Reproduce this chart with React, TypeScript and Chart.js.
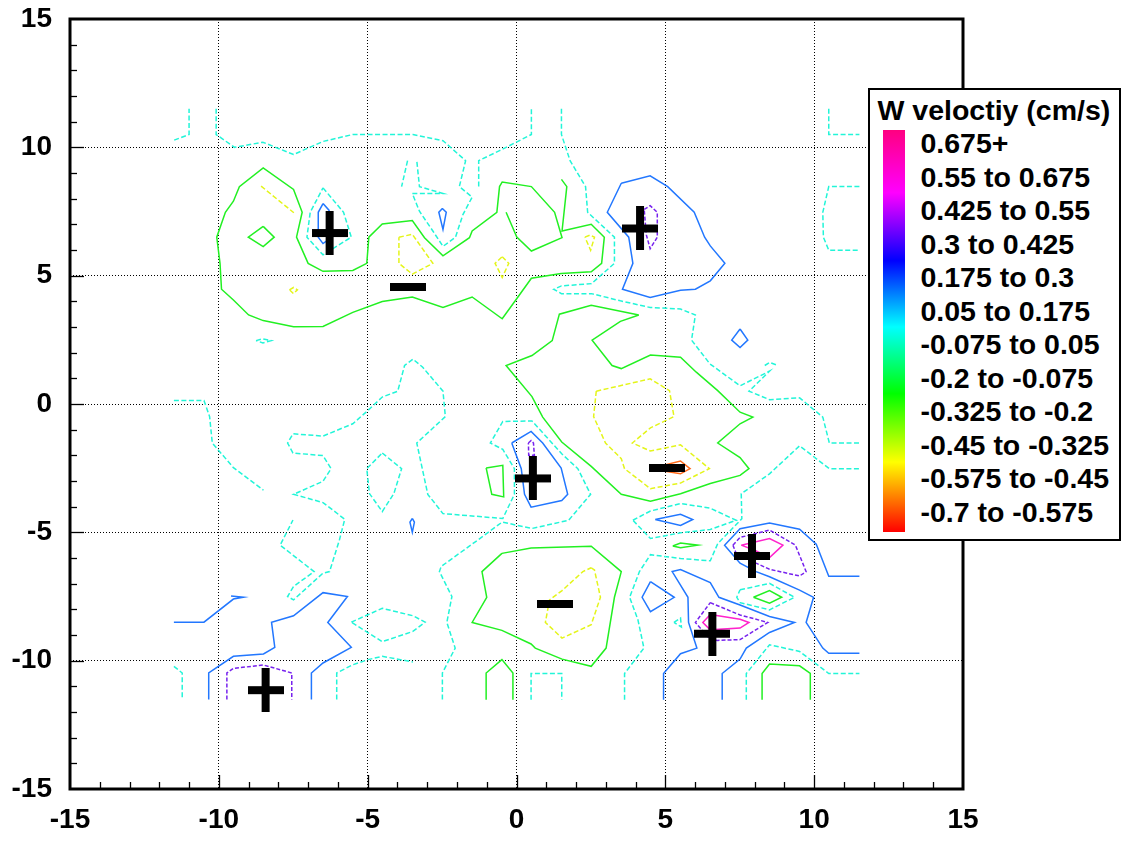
import React, { useEffect, useRef } from "react";
import { Chart, registerables } from "chart.js";

Chart.register(...registerables);

type Pt = [number, number];

const loop = (pts: Pt[]): Pt[] => [...pts, pts[0]];

const cyanContours: Pt[][] = [
  [[-11.5, 10.28], [-11, 10.5], [-11, 11.5]],
  [[-3.66, 9.48], [-3.86, 8.47]],
  [[-10.09, 11.5], [-10.09, 10.5], [-9.47, 10], [-8.52, 10.2], [-7.49, 9.72], [-6.5, 10.23], [-5.5, 10.5], [-3.48, 10.5], [-2.47, 10.26], [-1.71, 9.48], [-1.92, 8.47], [-1.49, 8.06], [-1.8, 7.38], [-2.05, 6.5], [-2.47, 6.14], [-2.81, 6.74], [-3.26, 7.51], [-3.5, 8.2], [-2.47, 8.2], [-3.26, 8.47], [-3.35, 9.48]],
  [[-1.27, 8.47], [-1.27, 9.48], [-0.57, 9.87], [0.5, 10.5], [0.5, 11.5]],
  [[1.51, 11.5], [1.51, 10.5], [1.8, 9.48], [2.32, 8.47], [2.39, 7.47], [3.29, 6.5], [3.29, 5.48], [2.52, 4.69], [1.51, 4.6], [1.25, 4.47], [1.51, 4.3], [2.52, 4.3], [3.49, 4.02], [4.49, 3.76], [5.51, 3.7], [6.01, 3.47], [5.88, 2.49], [6.5, 1.56], [7.51, 0.71], [8.5, 1.28], [7.81, 0.5], [8.5, 0.17], [9.51, 0.24], [10.29, -0.51], [10.51, -1.52], [11.52, -1.52]],
  [[8.34, 1.5], [8.5, 1.62], [8.78, 1.5]],
  [[10.49, 11.5], [10.49, 10.5], [11.52, 10.5]],
  [[11.52, 8.47], [10.49, 8.47], [10.29, 7.47], [10.31, 6.5], [10.49, 5.99], [11.52, 5.99]],
  loop([[-6.5, 8.42], [-5.81, 7.47], [-5.55, 6.5], [-6.5, 5.81], [-7.04, 6.5], [-6.93, 7.47]]),
  loop([[-8.75, 2.47], [-8.52, 2.54], [-8.24, 2.47], [-8.52, 2.38]]),
  [[-2.49, -11.51], [-2.49, -10.48], [-2.06, -9.51], [-2.34, -8.51], [-2.17, -7.5], [-2.59, -6.53], [-2.53, -6.33], [-1.3, -5.3], [-0.48, -4.6], [0.52, -4.85], [1.75, -4.53], [2.49, -3.52], [2.06, -2.52], [1.52, -1.94], [0.52, -0.66], [-0.46, -0.68], [-0.88, -1.52], [-0.46, -1.77], [-0.07, -2.52], [-0.07, -3.52], [-0.46, -4.46], [-2.47, -4.27], [-2.98, -3.52], [-3.35, -1.52], [-2.39, -0.49], [-2.47, 0.5], [-3.15, 1.43], [-3.48, 1.75], [-3.76, 1.5], [-3.99, 0.5], [-4.51, 0.27], [-4.99, -0.25], [-5.5, -0.77], [-6.5, -1.25], [-7.51, -1.16], [-7.69, -1.52], [-7.51, -1.91], [-6.5, -2.01], [-6.23, -2.52], [-6.5, -3.01], [-7.49, -3.52], [-6.5, -3.84], [-5.77, -4.49], [-5.95, -5.3], [-6.28, -6.53], [-6.5, -6.59], [-7.49, -7.63], [-7.69, -7.5], [-7.49, -7.11], [-6.8, -6.53], [-7.94, -5.5], [-7.51, -4.52]],
  [[-11.51, 0.14], [-10.5, 0.14], [-10.31, -0.49], [-10.22, -1.52], [-9.51, -2.48], [-8.5, -3.36]],
  loop([[-4.51, -1.91], [-3.86, -2.52], [-4.12, -3.49], [-4.51, -4.19], [-4.94, -3.49], [-5.03, -2.52]]),
  [[-11.51, -10.22], [-11.23, -10.48], [-11.23, -11.51]],
  [[-6.04, -11.51], [-6.04, -10.48], [-5.5, -10.16], [-4.99, -9.96], [-4.51, -9.83], [-3.48, -10.05]],
  loop([[-5.55, -8.5], [-4.51, -7.96], [-3.48, -8.25], [-3.07, -8.5], [-3.48, -8.86], [-4.51, -9.26]]),
  [[0.49, -11.52], [0.49, -10.5], [1.52, -10.5], [1.52, -11.52]],
  [[3.63, -11.52], [3.63, -10.5], [4.28, -9.51], [4.08, -8.41], [3.8, -7.53], [4.13, -6.53], [4.5, -5.87], [5.51, -6.02], [6.51, -6.11], [6.76, -5.44], [7.57, -4.47], [7.55, -3.5], [8.5, -2.72], [9.51, -1.63], [10.51, -2.52], [11.52, -2.52]],
  loop([[3.91, -4.53], [4.5, -4.17], [5.51, -3.88], [6.49, -4.05], [7.38, -4.53], [6.51, -4.89], [5.51, -5.02], [4.5, -5.24]]),
  loop([[5.29, -8.51], [5.51, -8.34], [5.54, -8.69]]),
  loop([[7.51, -7.24], [8.5, -6.99], [9.34, -7.53], [8.5, -8.02], [7.51, -7.74], [7.4, -7.53]]),
  [[7.72, -11.52], [7.72, -10.5], [8.5, -9.38], [9.51, -9.64], [10.49, -10.5], [11.52, -10.5]],
];

const greenContours: Pt[][] = [
  [[1.51, 8.75], [1.69, 8.47], [1.53, 6.74], [2.51, 7], [2.95, 6.5], [2.86, 5.48], [2.51, 5.15], [1.5, 5.08], [0.5, 4.9], [0, 4.09], [-0.48, 3.32], [-1.49, 4.17], [-2.47, 3.76], [-3.5, 4.17], [-4.51, 3.99], [-5.5, 3.57], [-6.5, 3.02], [-7.49, 3.01], [-8.51, 3.25], [-9, 3.47], [-9.51, 4.05], [-9.91, 4.47], [-9.96, 5.48], [-10.07, 6.5], [-9.78, 7.47], [-9.51, 7.9], [-9.31, 8.47], [-8.51, 9.2], [-7.49, 8.36], [-7.2, 7.47], [-7.39, 6.5], [-7, 5.48], [-6.5, 5.17], [-5.5, 5.2], [-5.03, 5.48], [-4.96, 6.5], [-4.51, 7.01], [-3.5, 7.15], [-3.09, 6.48], [-2.47, 5.77], [-1.58, 6.48], [-1.49, 6.74], [-0.66, 7.47], [-0.57, 8.47], [-0.48, 8.65], [0.5, 8.47], [1.28, 7.47], [1.53, 6.48], [0.5, 5.96], [0.01, 6.5], [-0.35, 7.47]],
  loop([[-8.51, 6.92], [-8.14, 6.5], [-8.51, 6.13], [-9.01, 6.5]]),
  loop([[4.11, 3.47], [2.51, 3.85], [1.44, 3.5], [1.2, 2.47], [0.52, 1.89], [-0.35, 1.5], [0.52, 0.29], [0.88, -0.51], [1.52, -1.48], [2.51, -2.43], [3.52, -3.52], [4.5, -3.79], [5.51, -3.5], [6.51, -3.1], [7.51, -2.78], [7.81, -2.52], [7.51, -2.09], [6.76, -1.52], [7.51, -0.77], [7.94, -0.51], [7.51, -0.32], [6.76, 0.52], [6.04, 1.24], [5.51, 1.82], [4.5, 1.91], [3.52, 1.38], [3.21, 1.5], [2.54, 2.49], [3.49, 3.22]]),
  loop([[-1.02, -2.49], [-0.46, -2.39], [-0.43, -3.62], [-0.83, -3.52]]),
  loop([[-0.49, -5.82], [0.49, -5.61], [2.51, -5.54], [3.52, -6.53], [3.29, -7.53], [3.01, -9.51], [2.51, -10.22], [1.53, -9.94], [0.63, -9.51], [0.49, -9.35], [-0.49, -8.82], [-1.49, -8.51], [-1, -7.53], [-1.16, -6.53]]),
  [[-1.02, -11.52], [-1.02, -10.48], [-0.49, -9.96], [-0.12, -10.48], [-0.12, -11.52]],
  loop([[5.25, -5.53], [5.51, -5.42], [6.09, -5.5], [5.51, -5.6]]),
  loop([[7.96, -7.53], [8.5, -7.27], [8.91, -7.53], [8.5, -7.76]]),
  [[8.25, -11.52], [8.25, -10.5], [8.5, -10.13], [9.51, -10.2], [9.87, -10.5], [9.87, -11.52]],
];

const blueContours: Pt[][] = [
  loop([[-6.5, 7.81], [-6.3, 7.55], [-6.2, 7], [-6.2, 6.5], [-6.5, 6.25], [-6.66, 6.5], [-6.66, 7.47]]),
  loop([[-2.49, 7.62], [-2.36, 7.47], [-2.47, 6.8], [-2.61, 7.47]]),
  loop([[3.52, 8.6], [4.49, 8.89], [5.08, 8.47], [5.97, 7.47], [6.32, 6.5], [6.51, 6.16], [7, 5.48], [6.51, 4.8], [6.01, 4.47], [5.51, 4.43], [4.49, 4.15], [3.56, 4.47], [3.91, 5.48], [3.77, 6.5], [3.05, 7.47]]),
  loop([[7.51, 2.92], [7.77, 2.49], [7.51, 2.2], [7.23, 2.49]]),
  loop([[-0.16, -1.52], [0.49, -1.07], [0.88, -1.52], [1.5, -2.5], [1.72, -3.52], [1.52, -3.76], [0.49, -4.02], [0.27, -3.52], [0.16, -2.52]]),
  loop([[-3.5, -4.46], [-3.43, -4.6], [-3.5, -5], [-3.58, -4.6]]),
  [[-11.51, -8.5], [-10.5, -8.5], [-9.51, -7.6], [-9.17, -7.53], [-9.59, -7.48]],
  [[-10.34, -11.51], [-10.34, -10.48], [-9.51, -9.83], [-8.5, -9.74], [-8.12, -9.48], [-8.23, -8.5], [-7.49, -8.25], [-6.5, -7.35], [-5.68, -7.5], [-6.34, -8.51], [-5.55, -9.48], [-6.5, -10.09], [-6.89, -10.48], [-6.89, -11.51]],
  loop([[4.66, -4.5], [5.51, -4.3], [5.92, -4.5], [5.51, -4.73]]),
  [[11.52, -6.71], [10.49, -6.71], [10.07, -5.46], [9.51, -4.88], [8.5, -4.64], [7.51, -4.86], [6.99, -5.5], [7.51, -6.2], [8.05, -6.53], [8.5, -6.73], [9.51, -7.25], [9.98, -7.53], [9.73, -8.51], [10.29, -9.51], [10.49, -9.71], [11.52, -9.71]],
  [[4.94, -11.52], [4.94, -10.5], [5.51, -9.73], [6.06, -9.51], [5.78, -8.51], [5.76, -7.53], [5.23, -6.53], [5.51, -6.45], [6.51, -6.96], [6.8, -7.53], [7.51, -7.83], [8.5, -8.28], [9.34, -8.51], [8.5, -8.9], [7.72, -9.51], [7.51, -9.94], [6.91, -10.5], [6.91, -11.52]],
  loop([[4.5, -6.92], [5.3, -7.53], [4.5, -8.09], [4.22, -7.53]]),
];

const purpleContours: Pt[][] = [
  loop([[4.29, 7.58], [4.49, 7.73], [4.73, 7.47], [4.73, 6.5], [4.49, 6.05], [4.36, 6.6]]),
  loop([[0.4, -1.52], [0.49, -1.42], [0.57, -1.52], [0.6, -2], [0.41, -2]]),
  [[-9.73, -11.51], [-9.73, -10.48], [-9.51, -10.3], [-8.5, -10.17], [-7.55, -10.48], [-7.55, -11.51]],
  loop([[7.27, -5.5], [7.51, -5.2], [8.5, -4.91], [9.37, -5.5], [9.73, -6.53], [9.51, -6.7], [8.5, -6.44], [8.05, -6.2], [7.38, -5.82]]),
  loop([[6.51, -7.74], [7.51, -8.22], [8.44, -8.51], [7.51, -9.18], [6.76, -9.21], [6.51, -9.18], [6.01, -8.51]]),
];

const magentaContours: Pt[][] = [
  loop([[7.55, -5.5], [8.5, -5.24], [8.95, -5.5], [8.5, -5.98], [8, -5.7]]),
  loop([[6.51, -8.2], [7.51, -8.39], [7.81, -8.51], [7.51, -8.73], [6.51, -8.8], [6.26, -8.51]]),
];

const yellowContours: Pt[][] = [
  [[-8.58, 8.49], [-7.48, 7.45]],
  loop([[-3.95, 6.5], [-3.5, 6.61], [-2.81, 5.48], [-3.5, 5.06], [-3.95, 5.48]]),
  loop([[-7.63, 4.45], [-7.49, 4.54], [-7.36, 4.45], [-7.49, 4.3]]),
  loop([[-0.48, 5.74], [-0.26, 5.48], [-0.48, 4.93], [-0.72, 5.48]]),
  loop([[2.3, 6.5], [2.47, 6.58], [2.62, 6.5], [2.49, 5.99]]),
  loop([[2.68, 0.5], [4.49, 0.98], [5.14, 0.52], [5.29, -0.49], [4.5, -0.93], [3.89, -1.52], [4.5, -1.83], [5.51, -1.59], [6.48, -2.52], [5.51, -3.08], [4.5, -3.3], [3.63, -2.52], [3.52, -2.13], [2.99, -1.52], [2.59, -0.49]]),
  loop([[2.51, -6.38], [2.62, -6.47], [2.82, -7.53], [2.51, -8.6], [1.53, -9.12], [0.97, -8.51], [1.11, -7.63], [1.53, -7.27], [2.23, -6.53]]),
];

const orangeContours: Pt[][] = [
  loop([[4.47, -2.52], [5.51, -2.22], [5.83, -2.52], [5.51, -2.72]]),
];

const plusMarks: Pt[] = [[-6.28, 6.66], [4.15, 6.84], [0.55, -2.9], [7.91, -5.92], [6.58, -8.95], [-8.43, -11.15]];
const minusMarks: Pt[] = [[-3.63, 4.54], [5.07, -2.49], [1.3, -7.81]];

const legendTitle = "W veloctiy (cm/s)";
const legendLabels = [
  "0.675+", "0.55 to 0.675", "0.425 to 0.55", "0.3 to 0.425", "0.175 to 0.3", "0.05 to 0.175",
  "-0.075 to 0.05", "-0.2 to -0.075", "-0.325 to -0.2", "-0.45 to -0.325", "-0.575 to -0.45", "-0.7 to -0.575",
];

const FONT = '"Liberation Sans", Arial, sans-serif';

const plusImage = () => {
  const c = document.createElement("canvas");
  c.width = 36;
  c.height = 44;
  const g = c.getContext("2d")!;
  g.fillStyle = "#000";
  g.fillRect(0, 18, 36, 8);
  g.fillRect(14, 0, 8, 44);
  return c;
};

const minusImage = () => {
  const c = document.createElement("canvas");
  c.width = 36;
  c.height = 8;
  const g = c.getContext("2d")!;
  g.fillStyle = "#000";
  g.fillRect(0, 0, 36, 8);
  return c;
};

const lineSet = (pts: Pt[], color: string, dash: number[], width = 1.5) => ({
  data: pts.map(([x, y]) => ({ x, y })),
  showLine: true,
  borderColor: color,
  borderWidth: width,
  borderDash: dash,
  pointRadius: 0,
  tension: 0,
  fill: false,
});

const frameTicks = {
  id: "frameTicks",
  beforeDatasetsDraw(chart: any) {
    const { ctx, chartArea: a, scales } = chart;
    ctx.save();
    ctx.strokeStyle = "#000";
    ctx.lineWidth = 1.3;
    for (let v = -14; v <= 14; v++) {
      const len = v % 5 === 0 ? 14 : 7;
      const px = Math.round(scales.x.getPixelForValue(v)) + 0.5;
      ctx.beginPath();
      ctx.moveTo(px, a.bottom);
      ctx.lineTo(px, a.bottom - len);
      ctx.stroke();
      const py = Math.round(scales.y.getPixelForValue(v)) + 0.5;
      ctx.beginPath();
      ctx.moveTo(a.left, py);
      ctx.lineTo(a.left + len, py);
      ctx.stroke();
    }
    ctx.lineWidth = 3;
    ctx.strokeRect(a.left, a.top, a.right - a.left, a.bottom - a.top);
    ctx.restore();
  },
};

export default function App() {
  const ref = useRef<HTMLCanvasElement>(null);
  useEffect(() => {
    document.body.style.margin = "0";
    const groups: [Pt[][], string, number[]][] = [
      [orangeContours, "#ff6a1a", []],
      [magentaContours, "#ff22cc", []],
      [purpleContours, "#7722ee", [4, 2]],
      [yellowContours, "#e4f51a", [5, 2.5]],
      [blueContours, "#2277ff", []],
      [greenContours, "#22f022", []],
      [cyanContours, "#22f5d8", [5, 2.5]],
    ];
    const datasets: any[] = [
      {
        data: plusMarks.map(([x, y]) => ({ x, y })),
        showLine: false,
        pointStyle: plusImage(),
        pointRadius: 18,
      },
      {
        data: minusMarks.map(([x, y]) => ({ x, y })),
        showLine: false,
        pointStyle: minusImage(),
        pointRadius: 18,
      },
    ];
    groups.forEach(([list, color, dash]) => list.forEach((p) => datasets.push(lineSet(p, color, dash))));
    const axis = (fit: (s: any) => void, pad: number) => ({
      type: "linear",
      min: -15,
      max: 15,
      afterFit: fit,
      border: { display: false, dash: [1, 2] },
      grid: { color: "#000", lineWidth: 1, drawTicks: false },
      ticks: {
        stepSize: 5,
        color: "#000",
        padding: pad,
        maxRotation: 0,
        autoSkip: false,
        font: { family: FONT, size: 28, weight: "bold" },
      },
    });
    const x: any = axis((s) => { s.height = 56; s.paddingLeft = 0; s.paddingRight = 0; }, 14);
    const y: any = axis((s) => { s.width = 70; s.paddingTop = 0; s.paddingBottom = 0; }, 18);
    const chart = new Chart(ref.current!, {
      type: "scatter",
      data: { datasets },
      options: {
        animation: false,
        responsive: false,
        layout: { padding: { top: 17, right: 164, left: 0, bottom: 0 } },
        plugins: { legend: { display: false }, tooltip: { enabled: false } },
        scales: { x, y },
      } as any,
      plugins: [frameTicks],
    } as any);
    return () => chart.destroy();
  }, []);

  return (
    <div style={{ position: "absolute", left: 0, top: 0, width: 1127, height: 845, background: "#fff", overflow: "hidden" }}>
      <canvas ref={ref} width={1127} height={845} style={{ display: "block" }} />
      <div
        style={{
          position: "absolute",
          left: 868,
          top: 88,
          width: 249,
          height: 449,
          border: "2.5px solid #000",
          background: "#fff",
          fontFamily: FONT,
          fontWeight: "bold",
          color: "#000",
          fontSize: 28.5,
        }}
      >
        <div style={{ position: "absolute", left: 7.5, top: 6, lineHeight: "28px", whiteSpace: "nowrap" }}>{legendTitle}</div>
        <div
          style={{
            position: "absolute",
            left: 12.5,
            top: 40,
            width: 22,
            height: 402,
            background:
              "linear-gradient(to bottom,#ff0080 0%,#ff00ff 15.6%,#0000ff 32.5%,#00ffff 49%,#00ff00 65.6%,#ffff00 82.6%,#ff0000 100%)",
          }}
        />
        {legendLabels.map((t, i) => (
          <div
            key={t}
            style={{
              position: "absolute",
              left: 50.5,
              top: 39 + i * 33.5,
              lineHeight: "28px",
              whiteSpace: "nowrap",
            }}
          >
            {t}
          </div>
        ))}
      </div>
    </div>
  );
}
